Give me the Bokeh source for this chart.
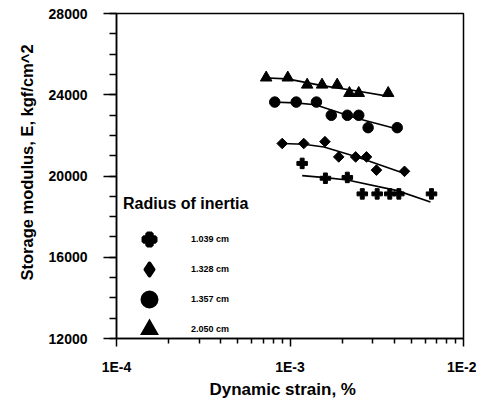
from math import pi
from bokeh.plotting import figure
from bokeh.models import FixedTicker, Legend, LegendItem, Title
from bokeh.embed import file_html
from bokeh.resources import INLINE

FONT = "Liberation Sans"

# ---- data ----
series_labels = ["1.039 cm", "1.328 cm", "1.357 cm", "2.050 cm"]
legend_title = "Radius of inertia"
x_title = "Dynamic strain, %"
y_title = "Storage modulus, E, kgf/cm^2"

strain_1039 = [1.175e-3, 1.60e-3, 2.14e-3, 2.61e-3, 3.18e-3, 3.76e-3, 4.24e-3, 6.54e-3]
modulus_1039 = [20620, 19890, 19930, 19120, 19120, 19120, 19120, 19120]
strain_1328 = [9.02e-4, 1.20e-3, 1.59e-3, 1.91e-3, 2.39e-3, 2.76e-3, 3.15e-3, 4.57e-3]
modulus_1328 = [21600, 21600, 21690, 20940, 20940, 20940, 20290, 20230]
strain_1357 = [8.17e-4, 1.086e-3, 1.42e-3, 1.73e-3, 2.14e-3, 2.49e-3, 2.82e-3, 4.15e-3]
modulus_1357 = [23640, 23640, 23640, 22990, 22990, 22990, 22380, 22380]
strain_2050 = [7.29e-4, 9.71e-4, 1.256e-3, 1.53e-3, 1.87e-3, 2.20e-3, 2.49e-3, 3.68e-3]
modulus_2050 = [24840, 24840, 24490, 24490, 24490, 24080, 24080, 24080]

# fitted trend curves
fit_strain_1039 = [1.175e-3, 1.60e-3, 2.14e-3, 4.15e-3, 6.45e-3]
fit_modulus_1039 = [20020, 19920, 19800, 19280, 18720]
fit_strain_1328 = [9.02e-4, 1.20e-3, 1.57e-3, 2.44e-3, 4.53e-3]
fit_modulus_1328 = [21600, 21560, 21430, 20940, 20130]
fit_strain_1357 = [7.72e-4, 1.076e-3, 1.40e-3, 2.39e-3, 4.05e-3]
fit_modulus_1357 = [23640, 23600, 23510, 22860, 22340]
fit_strain_2050 = [6.92e-4, 9.64e-4, 1.53e-3, 2.39e-3, 3.71e-3]
fit_modulus_2050 = [24840, 24780, 24450, 24200, 23920]

x_major_ticks = [1e-4, 1e-3, 1e-2]
x_tick_labels = ["1E-4", "1E-3", "1E-2"]
x_minor_mantissas = [2, 3, 4, 5, 6, 7, 8, 9]
y_major_ticks = [12000, 16000, 20000, 24000, 28000]
y_minor_step = 1000

# ---- figure ----
p = figure(width=476, height=398, x_axis_type="log",
           x_range=(1e-4, 1e-2), y_range=(12000, 28000),
           output_backend="svg", toolbar_location=None,
           min_border_left=116, min_border_right=13,
           min_border_top=13, min_border_bottom=57)
p.xgrid.visible = False
p.ygrid.visible = False
p.outline_line_color = "black"
p.outline_line_width = 1.5
p.outline_line_alpha = 1.0
p.background_fill_color = "white"
p.border_fill_color = "white"

x_minor = [d * m for d in x_major_ticks[:-1] for m in x_minor_mantissas]
p.xaxis.ticker = FixedTicker(ticks=x_major_ticks, minor_ticks=x_minor)
p.xaxis.major_label_overrides = {t: l for t, l in zip(x_major_ticks, x_tick_labels)}
y_minor = list(range(y_major_ticks[0], y_major_ticks[-1] + 1, y_minor_step))
p.yaxis.ticker = FixedTicker(ticks=y_major_ticks, minor_ticks=y_minor)

for ax in (p.xaxis, p.yaxis):
    ax.axis_line_color = "black"
    ax.axis_line_width = 1.5
    ax.major_tick_line_color = "black"
    ax.major_tick_line_width = 1.5
    ax.minor_tick_line_color = "black"
    ax.minor_tick_line_width = 1.5
    ax.major_tick_in = 0
    ax.minor_tick_in = 0
    ax.major_label_text_font = FONT
    ax.major_label_text_font_style = "bold"
    ax.major_label_text_font_size = "14px"
    ax.major_label_text_color = "black"
p.xaxis.major_tick_out = 8
p.xaxis.minor_tick_out = 5
p.xaxis.major_label_standoff = 12
p.yaxis.major_tick_out = 13
p.yaxis.minor_tick_out = 7
p.yaxis.major_label_standoff = 16

# ---- fitted curves ----
fits = [(fit_strain_1039, fit_modulus_1039), (fit_strain_1328, fit_modulus_1328),
        (fit_strain_1357, fit_modulus_1357), (fit_strain_2050, fit_modulus_2050)]
for fx, fy in fits:
    p.line(fx, fy, line_color="black", line_width=1.6)

# ---- data points ----
p.scatter(strain_1039, modulus_1039, marker="plus", size=10.5,
          fill_color="black", line_color="black")
p.scatter(strain_1328, modulus_1328, marker="square", angle=pi / 4, size=7.5,
          fill_color="black", line_color="black")
p.scatter(strain_1357, modulus_1357, marker="circle", size=10.5,
          fill_color="black", line_color="black")
p.scatter(strain_2050, modulus_2050, marker="triangle", size=11.5,
          fill_color="black", line_color="black")

# legend keys (hidden renderers of the same series, drawn only in the legend)
k_plus = p.scatter(strain_1039, modulus_1039, marker="plus", size=10,
                   fill_color="black", line_color="black", line_width=4, visible=False)
k_diam = p.scatter(strain_1328, modulus_1328, marker="diamond", size=10,
                   fill_color="black", line_color="black", line_width=4,
                   line_join="round", visible=False)
k_circ = p.scatter(strain_1357, modulus_1357, marker="circle", size=10,
                   fill_color="black", line_color="black", line_width=6, visible=False)
k_tri = p.scatter(strain_2050, modulus_2050, marker="triangle", size=10,
                  fill_color="black", line_color="black", line_width=4,
                  line_join="miter", visible=False)

legend = Legend(
    items=[LegendItem(label=series_labels[0], renderers=[k_plus]),
           LegendItem(label=series_labels[1], renderers=[k_diam]),
           LegendItem(label=series_labels[2], renderers=[k_circ]),
           LegendItem(label=series_labels[3], renderers=[k_tri])],
    location=(7, -6), title=legend_title,
    title_text_font=FONT, title_text_font_style="bold", title_text_font_size="16px",
    title_text_color="black", title_standoff=11,
    label_text_font=FONT, label_text_font_style="bold", label_text_font_size="9px",
    label_text_color="black",
    glyph_width=52, glyph_height=30, label_standoff=16, spacing=0,
    padding=0, margin=0, border_line_color=None, background_fill_alpha=0,
    inactive_fill_alpha=0,
)
p.add_layout(legend)

# ---- axis titles ----
p.add_layout(Title(text=y_title, align="left", offset=58, standoff=19,
                   text_font=FONT, text_font_style="bold", text_font_size="16.5px",
                   text_color="black"), "left")
p.add_layout(Title(text=x_title, align="left", offset=93, standoff=0,
                   text_font=FONT, text_font_style="bold", text_font_size="17px",
                   text_color="black"), "below")

open("out.html", "w").write(file_html(p, INLINE))
